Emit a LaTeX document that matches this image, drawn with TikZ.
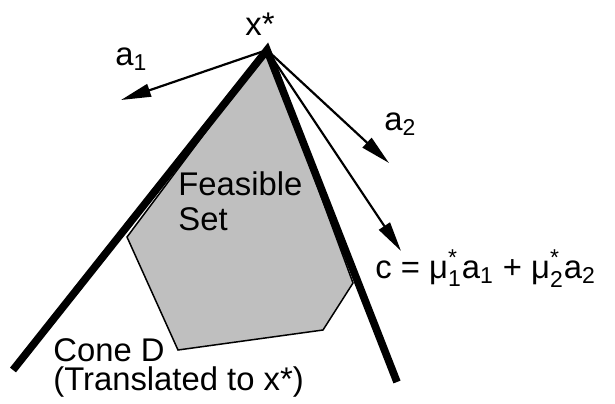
\documentclass[tikz,border=0pt]{standalone}
\usepackage{amsmath}
\usepackage{fontspec}
\setmainfont{Liberation Sans}
\usetikzlibrary{arrows.meta}
\begin{document}
\begin{tikzpicture}[x=0.5pt,y=-0.5pt,
    cone/.style={line width=3.8pt,line join=miter},
    vec/.style={line width=1.1pt,-{Triangle[length=15pt,width=6.5pt]}},
    lbl/.style={anchor=base west,inner sep=0pt,font=\fontsize{16.4}{17}\selectfont}]
                \useasboundingbox (0,0) rectangle (615,403);
                % 顶点 x* 及各点
                \coordinate (X) at (267,50);
                \coordinate (L) at (13,370);
                \coordinate (R) at (397,382);
                \coordinate (A1) at (121,100);
                \coordinate (A2) at (389,163);
                \coordinate (C) at (401,251);
                % 可行集的顶点
                \coordinate (P1) at (127,237);
                \coordinate (P2) at (178,350);
                \coordinate (P3) at (323,330);
                \coordinate (P4) at (353,283);
                % 可行集
                \filldraw[fill=black!25,line width=0.75pt] (X) -- (P1) -- (P2) -- (P3) -- (P4) -- cycle;
                % 锥 D
                \draw[cone] (L) -- (X) -- (R);
                % 向量 a1, a2, c
                \draw[vec] (X) -- (A1);
                \draw[vec] (X) -- (A2);
                \draw[vec] (X) -- (C);
                % 标注
                \node[lbl] (xs) at (245,35) {x*};
                \node[lbl] (a1) at (115,65) {a\textsubscript{1}};
                \node[lbl] (a2) at (384,130) {a\textsubscript{2}};
                \node[lbl,align=left,font=\fontsize{16.4}{17.5}\selectfont] (fs) at (178,230) {Feasible\\Set};
                \node[lbl] (cc) at (375,278) {c = $\text{μ}^{\text{*}}_{\text{1}}$a\textsubscript{1} + $\text{μ}^{\text{*}}_{\text{2}}$a\textsubscript{2}};
                \node[lbl,align=left,font=\fontsize{16.4}{14.5}\selectfont] (cd) at (53,390) {Cone D\\(Translated to x*)};
\end{tikzpicture}
\end{document}
